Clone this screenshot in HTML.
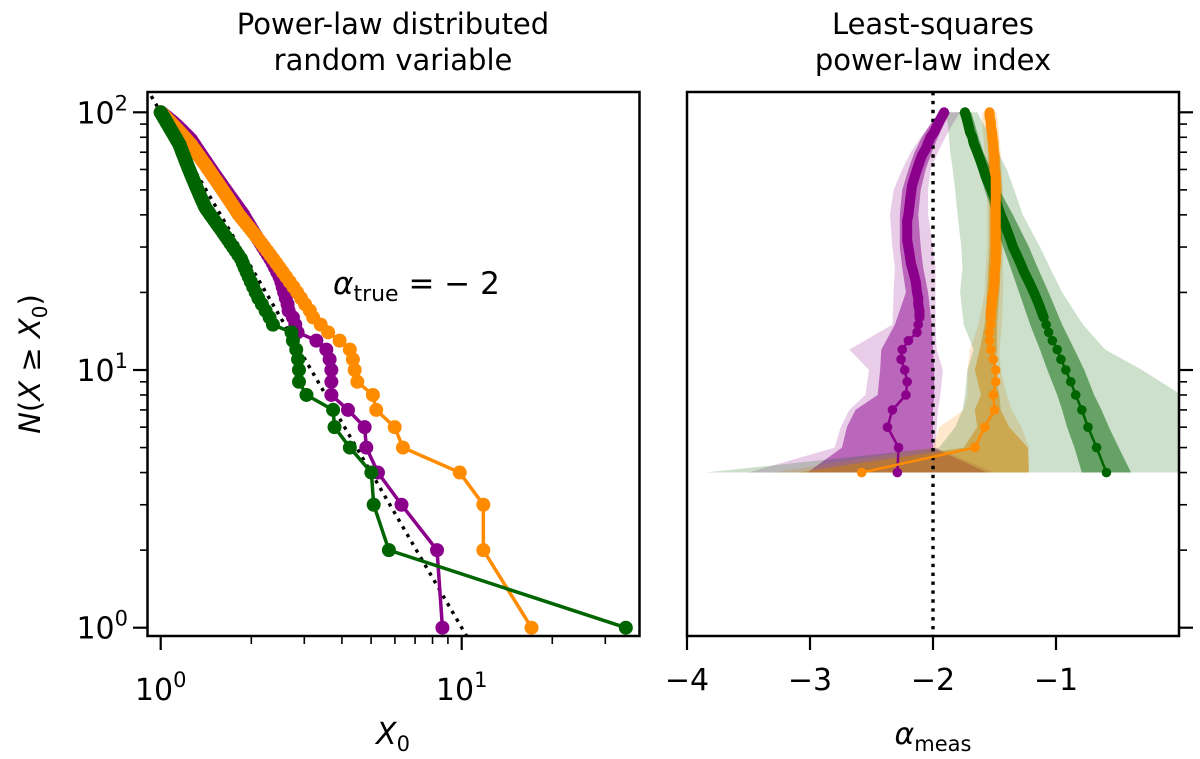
<!DOCTYPE html>
<html><head><meta charset="utf-8"><style>
body{margin:0;background:#fff}
svg text{font-family:"DejaVu Sans","Liberation Sans",sans-serif;fill:#000}
</style></head><body>
<svg id="fig" width="1200" height="754" viewBox="0 0 1200 754" xmlns="http://www.w3.org/2000/svg">
<defs>
<clipPath id="clipL"><rect x="147.5" y="92" width="492" height="544"/></clipPath>
<clipPath id="clipR"><rect x="687" y="92" width="492" height="544"/></clipPath>
</defs>
<text x="393" y="34" font-size="29" text-anchor="middle">Power-law distributed</text>
<text x="393" y="70" font-size="29" text-anchor="middle">random variable</text>
<text x="933" y="34" font-size="29" text-anchor="middle">Least-squares</text>
<text x="933" y="70" font-size="29" text-anchor="middle">power-law index</text>
<g id="left"></g>
<g id="right"></g>
<text x="393" y="744" font-size="30" text-anchor="middle" font-style="italic">X<tspan font-style="normal" font-size="21" dy="7">0</tspan></text>
<text x="933" y="744" font-size="30" text-anchor="middle" font-style="italic">α<tspan font-style="normal" font-size="21" dy="7">meas</tspan></text>
<text transform="translate(40,364) rotate(-90)" font-size="29" text-anchor="middle"><tspan font-style="italic">N</tspan>(<tspan font-style="italic">X</tspan> ≥ <tspan font-style="italic">X</tspan><tspan font-size="20" dy="7">0</tspan><tspan dy="-7">)</tspan></text>
<text x="333" y="294" font-size="31"><tspan font-style="italic">α</tspan><tspan font-size="22" dy="7">true</tspan><tspan dy="-7"> = − 2</tspan></text>
</svg>
<script>
// ---- Left panel data: x values for ranks N = 100 .. 1 ----
const rankN = Array.from({length:100},(_,i)=>100-i);
const purpleX = [1.000,1.011,1.022,1.033,1.046,1.057,1.068,1.081,1.093,1.105,1.117,1.129,1.141,1.151,1.163,1.176,1.187,1.200,1.212,1.225,1.238,1.251,1.264,1.272,1.282,1.292,1.301,1.311,1.322,1.333,1.343,1.355,1.366,1.378,1.390,1.402,1.415,1.428,1.442,1.455,1.470,1.484,1.499,1.515,1.531,1.548,1.565,1.583,1.601,1.620,1.640,1.660,1.681,1.703,1.726,1.750,1.775,1.800,1.826,1.854,1.882,1.905,1.930,1.958,1.985,2.015,2.045,2.078,2.112,2.148,2.186,2.226,2.268,2.313,2.355,2.396,2.437,2.481,2.516,2.542,2.571,2.604,2.640,2.66,2.75,2.80,2.85,3.29,3.55,3.64,3.69,3.69,3.69,4.19,4.76,4.82,5.27,6.31,8.28,8.63];
const orangeX = [1.000,1.009,1.017,1.026,1.035,1.044,1.054,1.063,1.073,1.082,1.092,1.102,1.112,1.122,1.132,1.144,1.154,1.165,1.176,1.187,1.198,1.211,1.221,1.235,1.246,1.259,1.269,1.279,1.291,1.302,1.313,1.324,1.337,1.349,1.361,1.373,1.386,1.400,1.414,1.426,1.441,1.456,1.471,1.485,1.500,1.517,1.534,1.550,1.567,1.585,1.603,1.622,1.641,1.662,1.682,1.703,1.725,1.748,1.770,1.795,1.818,1.851,1.885,1.920,1.957,1.994,2.034,2.075,2.118,2.162,2.209,2.258,2.310,2.364,2.420,2.480,2.543,2.610,2.682,2.760,2.840,2.925,3.017,3.13,3.21,3.40,3.60,3.93,4.25,4.35,4.41,4.50,5.07,5.20,5.99,6.38,9.85,11.8,11.8,17.06];
const greenX = [1.000,1.005,1.010,1.015,1.021,1.026,1.031,1.037,1.043,1.048,1.054,1.060,1.066,1.072,1.078,1.085,1.091,1.098,1.104,1.111,1.118,1.125,1.132,1.140,1.147,1.155,1.159,1.164,1.170,1.175,1.180,1.186,1.192,1.198,1.203,1.209,1.216,1.222,1.229,1.235,1.243,1.250,1.257,1.265,1.273,1.281,1.290,1.298,1.307,1.316,1.326,1.336,1.346,1.357,1.367,1.379,1.391,1.403,1.420,1.442,1.462,1.486,1.510,1.534,1.560,1.587,1.614,1.643,1.674,1.704,1.738,1.773,1.809,1.848,1.873,1.900,1.929,1.960,1.993,2.029,2.068,2.110,2.168,2.231,2.300,2.36,2.72,2.75,2.82,2.86,2.88,2.88,3.05,3.74,3.78,4.25,5.01,5.10,5.73,35.1];
const trueAlpha = -2;
const leftXTicks = [1,10];
const leftXTickLabels = ["0","1"];
const yTicks = [1,10,100];
const yTickLabels = ["0","1","2"];

// ---- Right panel data ----
const centerN = [4,5,6,7,8,9,10,11,12,13,14,15,16,17,18,19,20,22,24,26,28,30,32,34,36,38,40,44,48,52,56,60,64,68,72,76,80,84,88,92,96,100];
const purpleA = [-2.29,-2.28,-2.37,-2.33,-2.22,-2.21,-2.23,-2.26,-2.25,-2.2,-2.13,-2.12,-2.11,-2.11,-2.12,-2.12,-2.13,-2.14,-2.16,-2.18,-2.19,-2.2,-2.21,-2.21,-2.21,-2.21,-2.2,-2.19,-2.18,-2.17,-2.15,-2.13,-2.11,-2.09,-2.06,-2.04,-2.02,-1.99,-1.97,-1.95,-1.93,-1.91];
const orangeA = [-2.58,-1.66,-1.58,-1.50,-1.51,-1.49,-1.49,-1.51,-1.53,-1.54,-1.54,-1.53,-1.53,-1.53,-1.52,-1.52,-1.51,-1.50,-1.50,-1.49,-1.49,-1.49,-1.49,-1.49,-1.49,-1.49,-1.49,-1.49,-1.49,-1.49,-1.49,-1.50,-1.50,-1.50,-1.51,-1.51,-1.52,-1.52,-1.53,-1.53,-1.54,-1.54];
const greenA = [-0.59,-0.67,-0.74,-0.79,-0.84,-0.88,-0.92,-0.96,-0.99,-1.03,-1.06,-1.08,-1.10,-1.12,-1.14,-1.16,-1.18,-1.22,-1.26,-1.29,-1.32,-1.35,-1.37,-1.39,-1.41,-1.43,-1.45,-1.48,-1.51,-1.54,-1.57,-1.59,-1.61,-1.63,-1.65,-1.67,-1.68,-1.70,-1.71,-1.72,-1.73,-1.74];
const bandN = [4,5,6,7,8,10,12,15,20,25,30,40,50,60,70,80,90,100];
const purpleOuterLo = [-3.5,-2.8,-2.75,-2.68,-2.55,-2.52,-2.68,-2.33,-2.32,-2.31,-2.33,-2.35,-2.32,-2.25,-2.18,-2.1,-2.02,-1.95];
const purpleOuterHi = [-1.5,-1.98,-1.97,-1.96,-1.94,-1.92,-1.97,-1.98,-1.98,-1.98,-2.0,-2.04,-2.04,-2.02,-1.96,-1.9,-1.84,-1.78];
const purpleInnerLo = [-3.02,-2.74,-2.70,-2.63,-2.45,-2.43,-2.42,-2.31,-2.22,-2.25,-2.27,-2.27,-2.25,-2.2,-2.15,-2.09,-2.02,-1.95];
const purpleInnerHi = [-1.56,-2.0,-2.0,-2.0,-1.99,-1.99,-2.0,-2.01,-2.04,-2.08,-2.1,-2.12,-2.1,-2.06,-2.01,-1.96,-1.91,-1.86];
const orangeOuterLo = [-3.3,-2.0,-1.95,-1.75,-1.72,-1.72,-1.70,-1.63,-1.58,-1.57,-1.56,-1.56,-1.56,-1.57,-1.58,-1.59,-1.6,-1.6];
const orangeOuterHi = [-1.22,-1.22,-1.28,-1.36,-1.40,-1.45,-1.46,-1.44,-1.43,-1.43,-1.43,-1.43,-1.43,-1.44,-1.45,-1.46,-1.47,-1.48];
const orangeInnerLo = [-3.1,-1.75,-1.64,-1.66,-1.61,-1.66,-1.62,-1.58,-1.56,-1.55,-1.54,-1.54,-1.54,-1.55,-1.55,-1.56,-1.57,-1.58];
const orangeInnerHi = [-1.22,-1.23,-1.38,-1.45,-1.46,-1.51,-1.48,-1.48,-1.46,-1.45,-1.44,-1.44,-1.44,-1.45,-1.46,-1.47,-1.49,-1.50];
const greenOuterLo = [-3.85,-1.95,-1.82,-1.76,-1.74,-1.72,-1.67,-1.75,-1.78,-1.76,-1.77,-1.80,-1.82,-1.84,-1.86,-1.87,-1.88,-1.90];
const greenOuterHi = [0.02,0.02,0.02,0.02,0.02,-0.3,-0.6,-0.78,-0.95,-1.05,-1.13,-1.27,-1.34,-1.40,-1.47,-1.53,-1.59,-1.64];
const greenInnerLo = [-0.79,-0.85,-0.91,-0.95,-0.99,-1.07,-1.13,-1.21,-1.30,-1.37,-1.43,-1.51,-1.58,-1.63,-1.67,-1.71,-1.75,-1.79];
const greenInnerHi = [-0.39,-0.49,-0.57,-0.63,-0.69,-0.77,-0.85,-0.95,-1.06,-1.15,-1.22,-1.35,-1.46,-1.53,-1.59,-1.63,-1.66,-1.69];
const rightXTicks = [-4,-3,-2,-1];

const NS="http://www.w3.org/2000/svg";
function el(tag,attrs,parent){const e=document.createElementNS(NS,tag);for(const k in attrs)e.setAttribute(k,attrs[k]);if(parent)parent.appendChild(e);return e;}
const yScale = n => 627.7 - 257.7*Math.log10(n);
const xLog = v => 160.7 + 301*Math.log10(v);
const xLin = a => 687 + (a+4)*123;
const COL={purple:"#8b008b",orange:"#ff8c00",green:"#006400"};

// LEFT PANEL
const L=document.getElementById('left');
const gL=el('g',{'clip-path':'url(#clipL)'},L);
{const pts=[];for(const x of [0.93,10.4]){pts.push(xLog(x)+','+yScale(100*Math.pow(x,trueAlpha)));}
const d=el('polyline',{points:pts.join(' '),fill:'none',stroke:'#000','stroke-width':3.4,'stroke-dasharray':'3.4,5.5'},gL);

}
[['purple',purpleX],['orange',orangeX],['green',greenX]].forEach(([c,xs])=>{
  const g=el('g',{},gL);
  
  
  el('polyline',{points:xs.map((x,i)=>xLog(x)+','+yScale(rankN[i])).join(' '),fill:'none',stroke:COL[c],'stroke-width':3.5},g);
  xs.forEach((x,i)=>{const m=el('circle',{cx:xLog(x),cy:yScale(rankN[i]),r:7,fill:COL[c]},g);
    
    });
});
el('rect',{x:147.5,y:92,width:492,height:544,fill:'none',stroke:'#000','stroke-width':2.5},L);
yTicks.forEach((t,i)=>{const y=yScale(t);el('line',{x1:133,x2:147.5,y1:y,y2:y,stroke:'#000','stroke-width':2.2},L);
  const tx=el('text',{x:128,y:y+11,'font-size':30,'text-anchor':'end'},L);tx.innerHTML='10<tspan font-size="21" dy="-13">'+yTickLabels[i]+'</tspan>';
  
  });
for(let d=1;d<=100;d*=10)for(let k=2;k<=9;k++){const v=d*k;if(v>125)break;const y=yScale(v);if(y<92)continue;
  el('line',{x1:140,x2:147.5,y1:y,y2:y,stroke:'#000','stroke-width':1.6},L);}
leftXTicks.forEach((t,i)=>{const x=xLog(t);el('line',{x1:x,x2:x,y1:636,y2:650,stroke:'#000','stroke-width':2.2},L);
  const tx=el('text',{x:x,y:700,'font-size':30,'text-anchor':'middle'},L);tx.innerHTML='10<tspan font-size="21" dy="-13">'+leftXTickLabels[i]+'</tspan>';
  
  });
[0.9,2,3,4,5,6,7,8,9,20,30].forEach(v=>{const x=xLog(v);if(x<147||x>640)return;el('line',{x1:x,x2:x,y1:636,y2:644,stroke:'#000','stroke-width':1.6},L);});

// RIGHT PANEL
const R=document.getElementById('right');
const gR=el('g',{'clip-path':'url(#clipR)'},R);
function band(lo,hi,c,op,name){
  const pts=bandN.map((n,i)=>xLin(lo[i])+','+yScale(n)).concat(bandN.map((n,i)=>xLin(hi[i])+','+yScale(n)).reverse());
  const p=el('polygon',{points:pts.join(' '),fill:COL[c],'fill-opacity':op,stroke:'none'},gR);
  
  
}
band(purpleOuterLo,purpleOuterHi,'purple',0.2,'purple-outer-band');
band(purpleInnerLo,purpleInnerHi,'purple',0.5,'purple-inner-band');
band(orangeOuterLo,orangeOuterHi,'orange',0.2,'orange-outer-band');
band(orangeInnerLo,orangeInnerHi,'orange',0.5,'orange-inner-band');
band(greenOuterLo,greenOuterHi,'green',0.2,'green-outer-band');
band(greenInnerLo,greenInnerHi,'green',0.5,'green-inner-band');
{const v=el('line',{x1:xLin(trueAlpha),x2:xLin(trueAlpha),y1:92,y2:636,stroke:'#000','stroke-width':3.4,'stroke-dasharray':'3.4,5.5'},gR);

}
[['purple',purpleA],['green',greenA],['orange',orangeA]].forEach(([c,as])=>{
  const g=el('g',{},gR);
  
  
  el('polyline',{points:as.map((a,i)=>xLin(a)+','+yScale(centerN[i])).join(' '),fill:'none',stroke:COL[c],'stroke-width':2.5},g);
  // dense-marker region (overlapping markers appear as a thick line)
  const thick=as.map((a,i)=>[a,centerN[i]]).filter(p=>p[1]>=16);
  el('polyline',{points:thick.map(p=>xLin(p[0])+','+yScale(p[1])).join(' '),fill:'none',stroke:COL[c],'stroke-width':10,'stroke-linecap':'round','stroke-linejoin':'round'},g);
  as.forEach((a,i)=>{const m=el('circle',{cx:xLin(a),cy:yScale(centerN[i]),r:4.8,fill:COL[c]},g);
    
    });
});
el('rect',{x:687,y:92,width:492,height:544,fill:'none',stroke:'#000','stroke-width':2.5},R);
yTicks.forEach(t=>{const y=yScale(t);el('line',{x1:1179,x2:1193,y1:y,y2:y,stroke:'#000','stroke-width':2.2},R);});
for(let d=1;d<=100;d*=10)for(let k=2;k<=9;k++){const v=d*k;if(v>125)break;const y=yScale(v);if(y<92)continue;
  el('line',{x1:1179,x2:1187,y1:y,y2:y,stroke:'#000','stroke-width':1.6},R);}
rightXTicks.forEach(t=>{const x=xLin(t);el('line',{x1:x,x2:x,y1:636,y2:650,stroke:'#000','stroke-width':2.2},R);
  const tx=el('text',{x:x,y:690,'font-size':30,'text-anchor':'middle'},R);tx.textContent='−'+Math.abs(t);
  
  });
</script>
</body></html>
